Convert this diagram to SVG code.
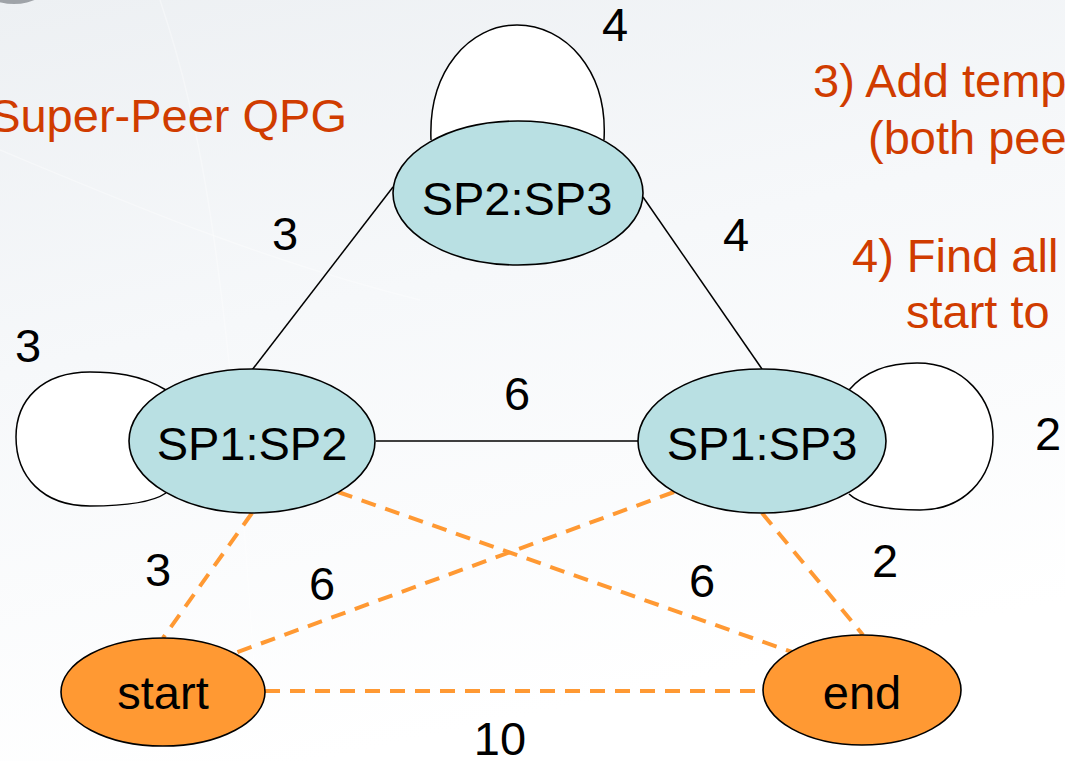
<svg xmlns="http://www.w3.org/2000/svg" width="1065" height="761" viewBox="0 0 1065 761">
  <defs>
    <linearGradient id="bg" x1="0" y1="0" x2="0.3" y2="1">
      <stop offset="0" stop-color="#EDF0F3"/>
      <stop offset="0.45" stop-color="#F6F8FA"/>
      <stop offset="1" stop-color="#FFFFFF"/>
    </linearGradient>
    <style>
      .bg { fill: url(#bg); }
      .streak { stroke: #FFFFFF; stroke-width: 1.5; fill: none; opacity: 0.35; }
      .sp { fill: #B9E0E3; stroke: #000000; stroke-width: 1.6; }
      .term { fill: #FF9933; stroke: #000000; stroke-width: 1.6; }
      .solid { stroke: #000000; stroke-width: 1.5; fill: none; }
      .loop { stroke: #000000; stroke-width: 1.5; fill: #FFFFFF; }
      .dash { stroke: #FF9933; stroke-width: 4; stroke-dasharray: 15 10; fill: none; }
      .lbl { font-family: "Liberation Sans", Arial, sans-serif; font-size: 47px; fill: #000000; text-anchor: middle; }
      .note { font-family: "Liberation Sans", Arial, sans-serif; font-size: 47px; fill: #D03C00; }
    </style>
  </defs>

  <!-- backdrop -->
  <rect class="bg" x="0" y="0" width="1065" height="761"/>
  <path class="streak" d="M160,0 C200,120 230,260 260,761"/>
  <path class="streak" d="M0,150 C120,200 260,260 420,300"/>
  <ellipse cx="14" cy="-16" rx="34" ry="20" fill="#6A7076" opacity="0.6"/>

  <!-- captions -->
  <text class="note" x="347" y="132" text-anchor="end">Super-Peer QPG</text>
  <text class="note" x="813" y="97">3) Add temp</text>
  <text class="note" x="868" y="154">(both pee</text>
  <text class="note" x="852" y="272">4) Find all</text>
  <text class="note" x="906" y="328">start to</text>

  <!-- connectors -->
  <g id="connectors">
    <path class="loop" d="M431,140 C428,70 470,25 517,25 C565,25 608,70 604,140"/>
    <path class="loop" d="M166,390 C140,374 112,372 90,372 C42,372 16,400 16,437 C16,476 42,506 90,506 C120,506 150,504 166,493"/>
    <path class="loop" d="M849,390 C866,370 892,363 917,363 C965,363 993,400 993,437 C993,480 962,510 920,510 C890,510 862,506 849,494"/>
    <line class="solid" x1="252" y1="370" x2="393" y2="187"/>
    <line class="solid" x1="643" y1="197" x2="762" y2="369"/>
    <line class="solid" x1="376" y1="441" x2="638" y2="441"/>
    <line class="dash" x1="252" y1="513" x2="163" y2="638"/>
    <line class="dash" x1="338" y1="492" x2="792" y2="652"/>
    <line class="dash" x1="674" y1="492" x2="235" y2="653"/>
    <line class="dash" x1="762" y1="513" x2="863" y2="635"/>
    <line class="dash" x1="265" y1="691" x2="763" y2="691"/>
  </g>

  <!-- edge weights -->
  <g id="weights">
    <text class="lbl" x="615" y="41">4</text>
    <text class="lbl" x="285" y="250">3</text>
    <text class="lbl" x="736" y="251">4</text>
    <text class="lbl" x="28" y="362">3</text>
    <text class="lbl" x="517" y="410">6</text>
    <text class="lbl" x="1048" y="450">2</text>
    <text class="lbl" x="158" y="586">3</text>
    <text class="lbl" x="322" y="600">6</text>
    <text class="lbl" x="702" y="597">6</text>
    <text class="lbl" x="885" y="577">2</text>
    <text class="lbl" x="500" y="755">10</text>
  </g>

  <!-- nodes -->
  <g id="sp2-sp3">
    <ellipse class="sp" cx="518" cy="193" rx="125" ry="72"/>
    <text class="lbl" x="517" y="215">SP2:SP3</text>
  </g>
  <g id="sp1-sp2">
    <ellipse class="sp" cx="252" cy="441" rx="123" ry="72"/>
    <text class="lbl" x="252" y="460">SP1:SP2</text>
  </g>
  <g id="sp1-sp3">
    <ellipse class="sp" cx="762" cy="441" rx="124" ry="72"/>
    <text class="lbl" x="762" y="460">SP1:SP3</text>
  </g>
  <g id="start">
    <ellipse class="term" cx="163" cy="692" rx="102" ry="54"/>
    <text class="lbl" x="163" y="709">start</text>
  </g>
  <g id="end">
    <ellipse class="term" cx="862" cy="690" rx="99" ry="55"/>
    <text class="lbl" x="862" y="709">end</text>
  </g>
</svg>
